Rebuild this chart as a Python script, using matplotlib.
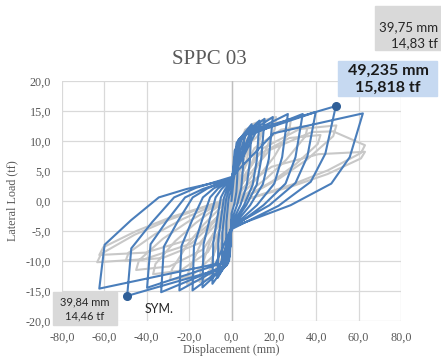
import matplotlib
matplotlib.use("Agg")
import matplotlib.pyplot as plt
from matplotlib.patches import Rectangle
from matplotlib.ticker import FuncFormatter

# Specimen SPPC 03 - measured hysteresis (displacement mm, load tf)
sppc03_disp = [
    0.0, 1.0, 3.0,
    2.7, 2.3, 1.4, 0.0, -0.3, -2.5,
    -2.4, -1.9, -1.4, -0.9, 0.0, 1.5, 6.0,
    5.4, 4.6, 2.7, 0.0, -0.5, -4.5,
    -4.3, -3.4, -2.5, -1.5, 0.0, 2.4, 9.5,
    8.6, 7.2, 4.3, 0.0, -0.8, -6.5,
    -6.2, -4.9, -3.6, -2.2, 0.0, 3.3, 13.2,
    11.9, 10.0, 5.9, 0.0, -1.1, -9.0,
    -8.6, -6.8, -5.0, -3.1, 0.0, 3.9, 15.6,
    14.0, 11.9, 7.0, 0.0, -1.6, -13.7,
    -13.2, -10.4, -7.5, -4.7, 0.0, 4.9, 19.5,
    17.6, 14.8, 8.8, 0.0, -2.2, -18.4,
    -17.7, -14.0, -10.1, -6.3, 0.0, 6.7, 26.6,
    23.9, 20.2, 12.0, 0.0, -3.0, -24.6,
    -23.6, -18.7, -13.5, -8.4, 0.0, 8.4, 33.6,
    30.2, 25.5, 15.1, 0.0, -4.0, -33.2,
    -31.9, -25.2, -18.3, -11.3, 0.0, 9.9, 39.75,
    35.8, 30.2, 17.9, 0.0, -4.8, -39.84,
    -38.2, -30.3, -21.9, -13.5, 0.0, 12.3, 49.235,
    44.3, 37.4, 22.2, 0.0, -5.9, -49.235,
    -47.3, -37.4, -27.1, -16.7, 0.0, 20.0, 62.0,
    55.8, 47.1, 27.9, 0.0, -7.5, -62.4,
    -59.9, -47.4, -34.3, -21.2, 0.0, 2.0,
]
sppc03_load = [
    0.0, 3.5, 7.5,
    3.8, 1.5, -0.4, -2.1, -5.0, -7.0,
    -3.5, -1.5, 0.3, 1.0, 1.8, 8.4, 11.0,
    5.5, 2.2, -0.6, -3.2, -7.6, -10.5,
    -5.3, -2.3, 0.4, 1.5, 2.6, 9.7, 12.8,
    6.4, 2.6, -0.6, -3.8, -9.2, -12.8,
    -6.4, -2.8, 0.5, 1.8, 3.2, 10.2, 13.4,
    6.7, 2.7, -0.7, -4.1, -9.9, -13.8,
    -6.9, -3.0, 0.6, 1.9, 3.5, 10.4, 13.7,
    6.9, 2.7, -0.7, -4.3, -10.4, -14.4,
    -7.2, -3.2, 0.6, 2.0, 3.6, 10.6, 14.0,
    7.0, 2.8, -0.7, -4.5, -10.7, -14.9,
    -7.5, -3.3, 0.6, 2.1, 3.7, 11.0, 14.5,
    7.3, 2.9, -0.7, -4.5, -10.7, -14.9,
    -7.5, -3.3, 0.6, 2.1, 3.7, 11.0, 14.5,
    7.3, 2.9, -0.7, -4.6, -10.9, -15.2,
    -7.6, -3.3, 0.6, 2.1, 3.8, 11.3, 14.83,
    7.4, 3.0, -0.7, -4.3, -10.4, -14.46,
    -7.2, -3.2, 0.6, 2.0, 3.6, 12.0, 15.818,
    7.9, 3.2, -0.8, -4.7, -11.4, -15.818,
    -7.9, -3.5, 0.6, 2.2, 4.0, 11.3, 14.6,
    7.3, 2.9, -0.7, -4.4, -10.5, -14.6,
    -7.3, -3.2, 0.6, 2.0, 3.7, 5.5,
]

# Reference (numerical) response
model_disp = [
    0.0, 1.2, 3.0,
    2.9, 2.2, 1.4, 0.3, 0.0, -0.9, -2.0, -3.0,
    -2.9, -2.2, -1.4, -0.3, 0.0, 1.8, 3.9, 6.0,
    5.8, 4.3, 2.8, 0.6, 0.0, -1.8, -3.9, -6.0,
    -5.8, -4.3, -2.8, -0.6, 0.0, 3.0, 6.5, 10.0,
    9.7, 7.2, 4.6, 1.0, 0.0, -3.0, -6.5, -10.0,
    -9.7, -7.2, -4.6, -1.0, 0.0, 4.5, 9.8, 15.0,
    14.6, 10.8, 6.9, 1.5, 0.0, -4.5, -9.8, -15.0,
    -14.6, -10.8, -6.9, -1.5, 0.0, 6.3, 13.7, 21.0,
    20.4, 15.1, 9.7, 2.1, 0.0, -6.3, -13.7, -21.0,
    -20.4, -15.1, -9.7, -2.1, 0.0, 8.4, 18.2, 28.0,
    27.2, 20.2, 12.9, 2.8, 0.0, -8.7, -18.9, -29.0,
    -28.1, -20.9, -13.3, -2.9, 0.0, 10.8, 23.4, 36.0,
    34.9, 25.9, 16.6, 3.6, 0.0, -11.1, -24.1, -37.0,
    -35.9, -26.6, -17.0, -3.7, 0.0, 12.6, 27.3, 42.0,
    40.7, 30.2, 19.3, 4.2, 0.0, -13.5, -29.3, -45.0,
    -43.7, -32.4, -20.7, -4.5, 0.0, 14.9, 32.2, 49.5,
    48.0, 35.6, 22.8, 5.0, 0.0, -15.0, -32.5, -50.0,
    -48.5, -36.0, -23.0, -5.0, 0.0, 18.0, 38.0, 48.0, 63.0,
    61.1, 45.4, 29.0, 6.3, 0.0, -19.0, -41.2, -63.4,
    -61.5, -45.6, -29.2, -6.3, 0.0, 18.9, 41.0, 63.0,
    61.1, 45.4, 29.0, 6.3, 0.0, -18.7, -40.6, -62.4,
    -60.5, -44.9, -28.7, -6.2, 0.0,
]
model_load = [
    0.0, 3.5, 7.0,
    6.0, 3.9, 2.1, 0.1, -0.6, -4.9, -6.7, -7.0,
    -6.0, -3.9, -2.1, -0.1, 0.6, 7.4, 10.0, 10.5,
    9.0, 5.8, 3.2, 0.2, -0.8, -7.4, -10.0, -10.5,
    -9.0, -5.8, -3.2, -0.2, 0.8, 8.8, 11.9, 12.5,
    10.8, 6.9, 3.8, 0.3, -1.0, -8.8, -11.9, -12.5,
    -10.8, -6.9, -3.8, -0.3, 1.0, 9.5, 12.8, 13.5,
    11.6, 7.4, 4.1, 0.3, -1.1, -9.5, -12.8, -13.5,
    -11.6, -7.4, -4.1, -0.3, 1.1, 9.8, 13.3, 14.0,
    12.0, 7.7, 4.2, 0.3, -1.1, -9.7, -13.1, -13.8,
    -11.9, -7.6, -4.1, -0.3, 1.1, 9.5, 12.8, 13.5,
    11.6, 7.4, 4.1, 0.3, -1.1, -9.2, -12.5, -13.2,
    -11.4, -7.3, -4.0, -0.3, 1.1, 8.8, 11.9, 12.5,
    10.8, 6.9, 3.8, 0.3, -1.0, -8.5, -11.6, -12.2,
    -10.5, -6.7, -3.7, -0.2, 1.0, 7.7, 10.5, 11.0,
    9.5, 6.1, 3.3, 0.2, -0.9, -8.1, -10.9, -11.5,
    -9.9, -6.3, -3.5, -0.2, 0.9, 8.8, 12.0, 12.6,
    10.8, 6.9, 3.8, 0.3, -0.8, -7.0, -9.5, -10.0,
    -8.6, -5.5, -3.0, -0.2, 0.8, 8.5, 11.5, 11.6, 9.3,
    8.0, 5.1, 2.8, 0.2, -0.8, -7.1, -9.7, -10.2,
    -8.8, -5.6, -3.1, -0.2, 0.8, 5.7, 7.8, 8.2,
    7.1, 4.5, 2.5, 0.2, -0.7, -6.3, -8.6, -9.0,
    -7.7, -5.0, -2.7, -0.2, 0.7,
]

# Highlighted peak points
peak_disp = [49.235, -49.235]
peak_load = [15.818, -15.818]

x_ticks = [-80, -60, -40, -20, 0, 20, 40, 60, 80]
y_ticks = [-20, -15, -10, -5, 0, 5, 10, 15, 20]

W, H = 441, 358
fig = plt.figure(figsize=(W / 100, H / 100), dpi=100)
fig.patch.set_facecolor("white")
ax = fig.add_axes([62 / W, 1 - 321 / H, (401 - 62) / W, (321 - 81) / H])

serif = "Liberation Serif"
txt_gray = "#595959"

ax.plot(model_disp, model_load, color="#c8c8c8", lw=1.5, zorder=2,
        solid_joinstyle="round")
ax.plot(sppc03_disp, sppc03_load, color="#4a7ebb", lw=1.5, zorder=3,
        solid_joinstyle="round")
ax.plot(peak_disp, peak_load, "o", color="#2f5f98", ms=5.5, zorder=4)

ax.set_xlim(-80, 80)
ax.set_ylim(-20, 20)
ax.set_xticks(x_ticks)
ax.set_yticks(y_ticks)
fmt = FuncFormatter(lambda v, p: f"{v:.1f}".replace(".", ","))
ax.xaxis.set_major_formatter(fmt)
ax.yaxis.set_major_formatter(fmt)
ax.grid(True, color="#d9d9d9", lw=0.9, zorder=0)
ax.set_axisbelow(True)
for s in ax.spines.values():
    s.set_visible(False)
ax.axvline(0, color="#bfbfbf", lw=1.0, zorder=1)
ax.tick_params(length=0, pad=8, labelsize=8.7, labelcolor=txt_gray)
for lab in ax.get_xticklabels() + ax.get_yticklabels():
    lab.set_fontfamily(serif)

ax.set_xlabel("Displacement (mm)", fontsize=8.7, family=serif,
              color=txt_gray, labelpad=0)
ax.set_ylabel("Lateral Load (tf)", fontsize=8.7, family=serif,
              color=txt_gray, labelpad=5)

fig.text(209 / W, 1 - 59 / H, "SPPC 03", ha="center", va="center",
         fontsize=15, family=serif, color=txt_gray)

# Data callouts
fig.patches.append(Rectangle((375 / W, 1 - 50 / H), 70 / W, 44 / H,
                             transform=fig.transFigure, color="#d9d9d9",
                             zorder=0))
fig.text(438 / W, 1 - 27 / H, "39,75 mm", ha="right", va="center",
         fontsize=9.5, family="Lato", color="#262626")
fig.text(438 / W, 1 - 43 / H, "14,83 tf", ha="right", va="center",
         fontsize=9.5, family="Lato", color="#262626")

fig.patches.append(Rectangle((338 / W, 1 - 96 / H), 99 / W, 35 / H,
                             transform=fig.transFigure, color="#c6d9f1",
                             zorder=0))
fig.text(388 / W, 1 - 71 / H, "49,235 mm", ha="center", va="center",
         fontsize=11.5, family="Lato", weight="bold", color="#1a1a1a")
fig.text(388 / W, 1 - 88 / H, "15,818 tf", ha="center", va="center",
         fontsize=11.5, family="Lato", weight="bold", color="#1a1a1a")

fig.patches.append(Rectangle((53 / W, 1 - 325 / H), 64 / W, 33 / H,
                             transform=fig.transFigure, color="#d9d9d9",
                             zorder=0))
fig.text(85 / W, 1 - 302 / H, "39,84 mm", ha="center", va="center",
         fontsize=8, family="Lato", color="#262626")
fig.text(85 / W, 1 - 316 / H, "14,46 tf", ha="center", va="center",
         fontsize=8, family="Lato", color="#262626")

fig.text(145 / W, 1 - 309 / H, "SYM.", ha="left", va="center",
         fontsize=9, family="Lato", color="#262626")

fig.savefig("out.png", dpi=100, facecolor="white")
